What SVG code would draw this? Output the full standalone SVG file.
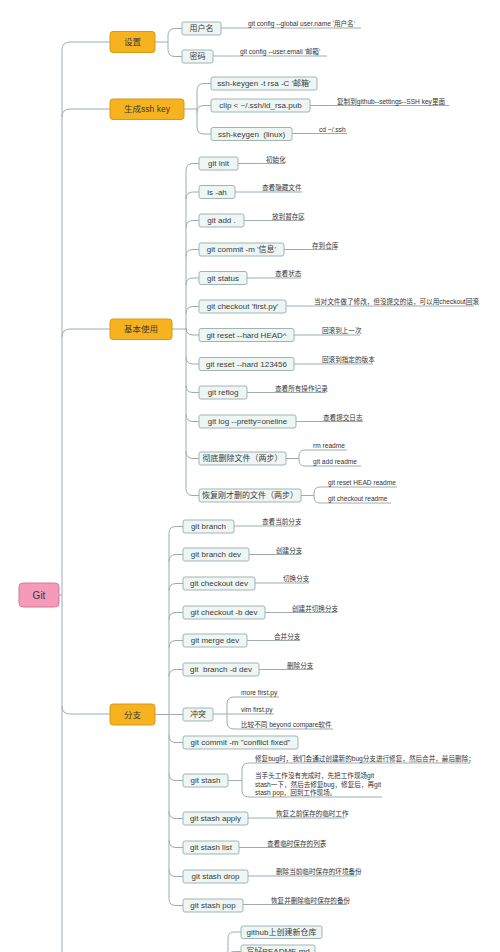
<svg xmlns="http://www.w3.org/2000/svg" width="500" height="952" viewBox="0 0 500 952">
<style>
.c{fill:none;stroke:#9aacb2;stroke-width:1}
.b{fill:#eef6f4;stroke:#9fb4b7;stroke-width:1}
.o{fill:#f7b21f;stroke:#d59a12;stroke-width:1}
.g{fill:#f49bb9;stroke:#d6799b;stroke-width:1}
text{font-family:"Liberation Sans","Noto Sans CJK SC",sans-serif;fill:#3a3a3a}
.bt{font-size:8px;text-anchor:middle;white-space:pre}
.ot{font-size:8.5px;text-anchor:middle}
.lt{font-size:6.6px;fill:#333}
</style>
<rect width="500" height="952" fill="#ffffff"/>
<g id="connectors" class="c">
<path d="M59,595 H62 M62,952 V50 M62,50 Q62,42 70,42 H110 M62,117 Q62,109 70,109 H110 M62,337 Q62,329 70,329 H110 M62,706 Q62,714 70,714 H110"/>
<path d="M155,42 H168 M168,35.5 V49.5 M168,35.5 Q168,28.5 175,28.5 H182 M168,49.5 Q168,56.5 175,56.5 H182"/>
<path d="M221,28 H361 M213,56 H327"/>
<path d="M184,109 H197 M197,90.5 V127 M197,90.5 Q197,83.5 204,83.5 H211 M197,112.5 Q197,105.5 204,105.5 H211 M197,127 Q197,134 204,134 H211"/>
<path d="M310,105.5 H449 M292,133.5 H347"/>
<path d="M172,329 H186 M186,170.5 V488.5
M186,170.5 Q186,163.5 193,163.5 H199
M186,199 Q186,192 193,192 H199
M186,227.5 Q186,220.5 193,220.5 H199
M186,256.5 Q186,249.5 193,249.5 H199
M186,285 Q186,278 193,278 H199
M186,313.5 Q186,306.5 193,306.5 H199
M186,328 Q186,335 193,335 H199
M186,357 Q186,364 193,364 H199
M186,385.5 Q186,392.5 193,392.5 H199
M186,414.5 Q186,421.5 193,421.5 H199
M186,451.5 Q186,458.5 193,458.5 H199
M186,488.5 Q186,495.5 193,495.5 H199"/>
<path d="M238,163.5 H285 M235,192 H302 M244,220.5 H303 M284,249.5 H337 M247,278 H301 M286,306 H474 M294,335 H360 M294,364 H373 M247,392.5 H326 M296,421.5 H363"/>
<path d="M286,458.5 H299 M299,458.5 V456 Q299,450 305,450 H347 M299,458.5 V460 Q299,466 305,466 H361"/>
<path d="M301,495.5 H314 M314,495.5 V493 Q314,487 320,487 H397 M314,495.5 V497 Q314,503 320,503 H391"/>
<path d="M155,714.5 H183 M169,533.5 V898.5
M169,533.5 Q169,526.5 176,526.5 H183
M169,561.5 Q169,554.5 176,554.5 H183
M169,590.5 Q169,583.5 176,583.5 H183
M169,619.5 Q169,612.5 176,612.5 H183
M169,647.5 Q169,640.5 176,640.5 H183
M169,676.5 Q169,669.5 176,669.5 H183
M169,735.5 Q169,742.5 176,742.5 H183
M169,773.5 Q169,780.5 176,780.5 H183
M169,811.5 Q169,818.5 176,818.5 H183
M169,840.5 Q169,847.5 176,847.5 H183
M169,869.5 Q169,876.5 176,876.5 H183
M169,898.5 Q169,905.5 176,905.5 H183"/>
<path d="M234,526 H299 M249,554.5 H301 M255,583 H309 M265,612.5 H337 M247,640.5 H300 M259,669.5 H313"/>
<path d="M213,714 H274 M227,714 V704 Q227,697 234,697 H279 M227,714 V722 Q227,729 234,729 H333"/>
<path d="M228,780.5 H242 M242,780.5 V770 Q242,763 249,763 H470 M242,780.5 V790 Q242,797 249,797 H382"/>
<path d="M248,818 H345 M239,847.5 H324 M248,876 H357 M243,904.5 H347"/>
<path d="M228,960 V938 Q228,932 234,932 H241 M228,958 Q228,951.5 234.5,951.5 H241"/>
</g>
<g id="n-git"><rect class="g" x="19" y="583" width="40" height="24" rx="4"/><text class="ot" x="39" y="598.5" style="font-size:10px">Git</text></g>
<g id="n-shezhi"><rect class="o" x="110" y="31.5" width="45" height="21" rx="3"/><text class="ot" x="132.5" y="45">设置</text></g>
<g id="n-ssh"><rect class="o" x="110" y="99" width="74" height="20.5" rx="3"/><text class="ot" x="147" y="112">生成ssh key</text></g>
<g id="n-jiben"><rect class="o" x="110" y="319" width="62" height="20.5" rx="3"/><text class="ot" x="141" y="332">基本使用</text></g>
<g id="n-fenzhi"><rect class="o" x="110" y="704" width="45" height="21" rx="3"/><text class="ot" x="132.5" y="717.5">分支</text></g>

<g id="n-user"><rect class="b" x="182" y="22" width="39" height="13" rx="2"/><text class="bt" x="201.5" y="31.3">用户名</text></g>
<g id="l-user"><text class="lt" x="248" y="26">git config --global user.name '用户名'</text></g>
<g id="n-pwd"><rect class="b" x="182" y="50" width="31" height="13" rx="2"/><text class="bt" x="197.5" y="59.3">密码</text></g>
<g id="l-pwd"><text class="lt" x="240" y="54">git config --user.email '邮箱'</text></g>

<g id="n-keygen"><rect class="b" x="211" y="77" width="106" height="13" rx="2"/><text class="bt" x="264" y="86.3">ssh-keygen -t rsa -C '邮箱'</text></g>
<g id="n-clip"><rect class="b" x="211" y="99" width="99" height="13" rx="2"/><text class="bt" x="260.5" y="108.3">clip &lt; ~/.ssh/id_rsa.pub</text></g>
<g id="l-clip"><text class="lt" x="337" y="103.5">复制到github--settings--SSH key里面</text></g>
<g id="n-linux"><rect class="b" x="211" y="127.5" width="81" height="13" rx="2"/><text class="bt" x="251.5" y="136.8">ssh-keygen  (linux)</text></g>
<g id="l-linux"><text class="lt" x="319" y="131.5">cd ~/.ssh</text></g>

<g id="n-init"><rect class="b" x="199" y="157" width="39" height="13" rx="2"/><text class="bt" x="218.5" y="166.3">git init</text></g>
<g id="l-init"><text class="lt" x="266" y="161.5">初始化</text></g>
<g id="n-ls"><rect class="b" x="199" y="185.5" width="36" height="13" rx="2"/><text class="bt" x="217" y="194.8">ls -ah</text></g>
<g id="l-ls"><text class="lt" x="262" y="190">查看隐藏文件</text></g>
<g id="n-add"><rect class="b" x="199" y="214" width="45" height="13" rx="2"/><text class="bt" x="221.5" y="223.3">git add .</text></g>
<g id="l-add"><text class="lt" x="272" y="218.5">放到暂存区</text></g>
<g id="n-commit"><rect class="b" x="199" y="243" width="85" height="13" rx="2"/><text class="bt" x="241.5" y="252.3">git commit -m '信息'</text></g>
<g id="l-commit"><text class="lt" x="312" y="247.5">存到仓库</text></g>
<g id="n-status"><rect class="b" x="199" y="271.5" width="48" height="13" rx="2"/><text class="bt" x="223" y="280.8">git status</text></g>
<g id="l-status"><text class="lt" x="275" y="276">查看状态</text></g>
<g id="n-checkout"><rect class="b" x="199" y="300" width="87" height="13" rx="2"/><text class="bt" x="242.5" y="309.3">git checkout 'first.py'</text></g>
<g id="l-checkout"><text class="lt" x="314" y="304">当对文件做了修改，但没提交的话，可以用checkout回滚</text></g>
<g id="n-head"><rect class="b" x="199" y="328.5" width="95" height="13" rx="2"/><text class="bt" x="246.5" y="337.8">git reset --hard HEAD^</text></g>
<g id="l-head"><text class="lt" x="322" y="333">回滚到上一次</text></g>
<g id="n-hash"><rect class="b" x="199" y="357.5" width="95" height="13" rx="2"/><text class="bt" x="246.5" y="366.8">git reset --hard 123456</text></g>
<g id="l-hash"><text class="lt" x="322" y="362">回滚到指定的版本</text></g>
<g id="n-reflog"><rect class="b" x="199" y="386" width="48" height="13" rx="2"/><text class="bt" x="223" y="395.3">git reflog</text></g>
<g id="l-reflog"><text class="lt" x="275" y="390.5">查看所有操作记录</text></g>
<g id="n-log"><rect class="b" x="199" y="415" width="97" height="13" rx="2"/><text class="bt" x="247.5" y="424.3">git log --pretty=oneline</text></g>
<g id="l-log"><text class="lt" x="323" y="419.5">查看提交日志</text></g>
<g id="n-rm"><rect class="b" x="199" y="452" width="87" height="13" rx="2"/><text class="bt" x="242.5" y="461.3">彻底删除文件（两步）</text></g>
<g id="l-rm1"><text class="lt" x="313" y="448">rm readme</text></g>
<g id="l-rm2"><text class="lt" x="313" y="464">git add readme</text></g>
<g id="n-restore"><rect class="b" x="199" y="489" width="102" height="13" rx="2"/><text class="bt" x="250" y="498.3">恢复刚才删的文件（两步）</text></g>
<g id="l-res1"><text class="lt" x="328" y="485">git reset HEAD readme</text></g>
<g id="l-res2"><text class="lt" x="328" y="501">git checkout readme</text></g>

<g id="n-branch"><rect class="b" x="183" y="520" width="51" height="13" rx="2"/><text class="bt" x="208.5" y="529.3">git branch</text></g>
<g id="l-branch"><text class="lt" x="262" y="524">查看当前分支</text></g>
<g id="n-bdev"><rect class="b" x="183" y="548" width="66" height="13" rx="2"/><text class="bt" x="216" y="557.3">git branch dev</text></g>
<g id="l-bdev"><text class="lt" x="276" y="552.5">创建分支</text></g>
<g id="n-cdev"><rect class="b" x="183" y="577" width="72" height="13" rx="2"/><text class="bt" x="219" y="586.3">git checkout dev</text></g>
<g id="l-cdev"><text class="lt" x="283" y="581">切换分支</text></g>
<g id="n-cbdev"><rect class="b" x="183" y="606" width="82" height="13" rx="2"/><text class="bt" x="224" y="615.3">git checkout -b dev</text></g>
<g id="l-cbdev"><text class="lt" x="292" y="610.5">创建并切换分支</text></g>
<g id="n-merge"><rect class="b" x="183" y="634" width="64" height="13" rx="2"/><text class="bt" x="215" y="643.3">git merge dev</text></g>
<g id="l-merge"><text class="lt" x="274" y="638.5">合并分支</text></g>
<g id="n-del"><rect class="b" x="183" y="663" width="76" height="13" rx="2"/><text class="bt" x="221" y="672.3">git  branch -d dev</text></g>
<g id="l-del"><text class="lt" x="287" y="667.5">删除分支</text></g>
<g id="n-conflict"><rect class="b" x="183" y="708" width="30" height="13" rx="2"/><text class="bt" x="198" y="717.3">冲突</text></g>
<g id="l-c1"><text class="lt" x="241" y="695">more first.py</text></g>
<g id="l-c2"><text class="lt" x="241" y="711.5">vim first.py</text></g>
<g id="l-c3"><text class="lt" x="241" y="727">比较不同 beyond compare软件</text></g>
<g id="n-fixed"><rect class="b" x="183" y="736" width="115" height="13" rx="2"/><text class="bt" x="240.5" y="745.3">git commit -m "conflict fixed"</text></g>
<g id="n-stash"><rect class="b" x="183" y="774" width="45" height="13" rx="2"/><text class="bt" x="205.5" y="783.3">git stash</text></g>
<g id="l-s1"><text class="lt" x="255" y="761">修复bug时，我们会通过创建新的bug分支进行修复，然后合并，最后删除；</text></g>
<g id="l-s2"><text class="lt" x="255" y="778">当手头工作没有完成时，先把工作现场git</text><text class="lt" x="255" y="786.5">stash一下，然后去修复bug，修复后，再git</text><text class="lt" x="255" y="795">stash pop，回到工作现场。</text></g>
<g id="n-apply"><rect class="b" x="183" y="812" width="65" height="13" rx="2"/><text class="bt" x="215.5" y="821.3">git stash apply</text></g>
<g id="l-apply"><text class="lt" x="276" y="816">恢复之前保存的临时工作</text></g>
<g id="n-list"><rect class="b" x="183" y="841" width="56" height="13" rx="2"/><text class="bt" x="211" y="850.3">git stash list</text></g>
<g id="l-list"><text class="lt" x="267" y="845.5">查看临时保存的列表</text></g>
<g id="n-drop"><rect class="b" x="183" y="870" width="65" height="13" rx="2"/><text class="bt" x="215.5" y="879.3">git stash drop</text></g>
<g id="l-drop"><text class="lt" x="276" y="874">删除当前临时保存的环境备份</text></g>
<g id="n-pop"><rect class="b" x="183" y="899" width="60" height="13" rx="2"/><text class="bt" x="213" y="908.3">git stash pop</text></g>
<g id="l-pop"><text class="lt" x="271" y="902.5">恢复并删除临时保存的备份</text></g>

<g id="n-github"><rect class="b" x="241" y="926" width="81" height="12.5" rx="2"/><text class="bt" x="281.5" y="935">github上创建新仓库</text></g>
<g id="n-readme"><rect class="b" x="241" y="945" width="74" height="13" rx="2"/><text class="bt" x="278" y="954.3">写好README.md</text></g>
</svg>
